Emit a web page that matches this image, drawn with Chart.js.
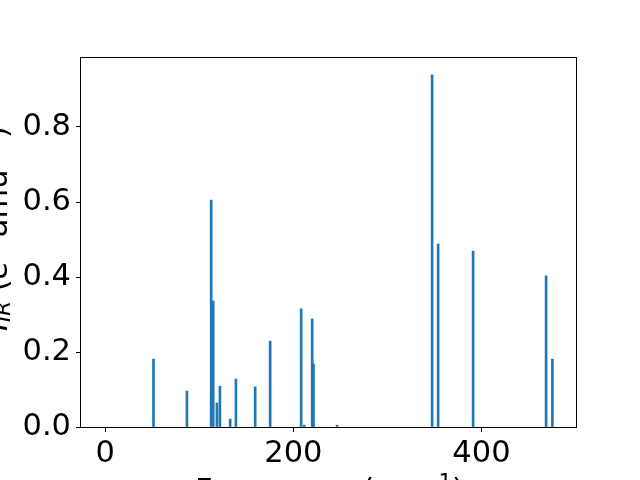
<!DOCTYPE html>
<html>
<head>
<meta charset="utf-8">
<script src="https://cdn.jsdelivr.net/npm/chart.js@4"></script>
<style>
  body { margin: 0; background: #fff; }
</style>
</head>
<body>
<canvas id="myChart" width="640" height="480"></canvas>
<script>
// data
const freqs = [51.3, 86.8, 112.6, 114.8, 118.7, 121.9, 132.8, 138.9, 159.4, 175.3,
               208.3, 211.5, 220.0, 221.4, 246.5, 347.5, 353.9, 391.1, 468.7, 475.4];
const intensities = [0.181, 0.096, 0.605, 0.336, 0.064, 0.109, 0.021, 0.128, 0.107, 0.229,
                     0.315, 0.005, 0.288, 0.168, 0.005, 0.939, 0.488, 0.469, 0.403, 0.181];
const xTicks = [0, 200, 400];
const yTicks = [0, 0.2, 0.4, 0.6, 0.8];

const FONT = 'DejaVu Sans';
const SIZE = 30.5;

// draw a run of text pieces (normal / sub / sup)
function drawRich(ctx, parts, x, y) {
  let cx = x;
  parts.forEach(p => {
    const size = p.small ? SIZE * 0.7 : SIZE;
    ctx.font = (p.italic ? 'italic ' : '') + size + 'px "' + FONT + '"';
    ctx.fillText(p.t, cx, y + (p.dy || 0));
    cx += ctx.measureText(p.t).width;
  });
}

const axisTitles = {
  id: 'axisTitles',
  afterDraw(chart) {
    const ctx = chart.ctx;
    const a = chart.chartArea;
    ctx.save();
    // frame
    ctx.strokeStyle = '#000';
    ctx.lineWidth = 1;
    ctx.strokeRect(a.left - 0.5, a.top - 0.5, a.right - a.left + 1, a.bottom - a.top + 1);
    ctx.fillStyle = '#000';
    ctx.textBaseline = 'alphabetic';
    ctx.textAlign = 'left';
    // x title
    drawRich(ctx, [
      {t: 'Frequency (cm'},
      {t: '\u22121', small: true, dy: -11},
      {t: ')'}
    ], 195, 500);
    // y title
    ctx.translate(7, 331);
    ctx.rotate(-Math.PI / 2);
    drawRich(ctx, [
      {t: 'I', italic: true},
      {t: 'IR', italic: true, small: true, dy: 3},
      {t: ' ('},
      {t: 'e', italic: true},
      {t: '2', small: true, dy: -11},
      {t: ' amu'},
      {t: '\u22121', small: true, dy: -11},
      {t: ')'}
    ], 0, 0);
    ctx.restore();
  }
};

const tickFont = { family: FONT, size: SIZE };

const config = {
  type: 'bar',
  data: {
    datasets: [{
      data: freqs.map((f, i) => ({ x: f, y: intensities[i] })),
      backgroundColor: '#1f77b4',
      borderWidth: 0,
      barThickness: 2
    }]
  },
  options: {
    responsive: false,
    animation: false,
    layout: { padding: { top: 58, right: 64, left: 0, bottom: 0 } },
    plugins: { legend: { display: false }, tooltip: { enabled: false } },
    scales: {
      x: {
        type: 'linear',
        min: -25.8,
        max: 500.5,
        offset: false,
        afterBuildTicks: s => { s.ticks = xTicks.map(v => ({ value: v })); },
        afterFit: s => { s.height = 53; },
        grid: { offset: false, drawOnChartArea: false, drawTicks: true, tickLength: 5, tickColor: '#000', color: '#000' },
        border: { display: false },
        ticks: { font: tickFont, color: '#000', padding: 4, maxRotation: 0, autoSkip: false,
                 callback: v => String(v) }
      },
      y: {
        min: 0,
        max: 0.984,
        afterBuildTicks: s => { s.ticks = yTicks.map(v => ({ value: v })); },
        afterFit: s => { s.width = 81; },
        grid: { drawOnChartArea: false, drawTicks: true, tickLength: 5, tickColor: '#000', color: '#000' },
        border: { display: false },
        ticks: { font: tickFont, color: '#000', padding: 5, autoSkip: false,
                 callback: v => v.toFixed(1) }
      }
    }
  },
  plugins: [axisTitles]
};

const myChart = new Chart(document.getElementById('myChart'), config);
</script>
</body>
</html>
